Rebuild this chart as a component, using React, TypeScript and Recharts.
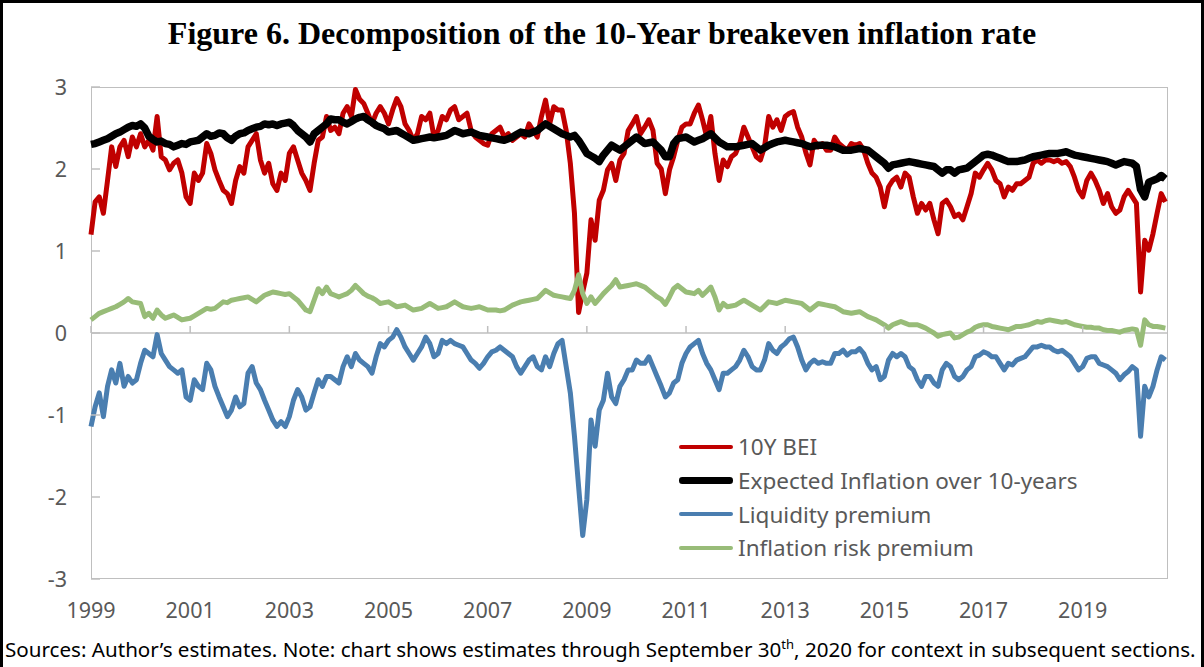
import { LineChart, Line, XAxis, YAxis, Legend, ReferenceLine } from "recharts";

// monthly observations, Jan 1999 .. Sep 2020 (one row per year)
const FIRST_YEAR = 1999;

const bei = [
  1.2, 1.6, 1.66, 1.46, 1.86, 2.27, 2.03, 2.27, 2.35, 2.15, 2.39, 2.27,
  2.43, 2.27, 2.35, 2.23, 2.64, 2.15, 2.11, 1.99, 2.07, 2.11, 1.95, 1.66,
  1.58, 1.95, 1.86, 1.95, 2.31, 2.19, 1.99, 1.86, 1.74, 1.7, 1.58, 1.86,
  2.03, 1.95, 2.27, 2.35, 2.43, 2.11, 1.95, 2.07, 1.82, 1.74, 1.95, 1.86,
  2.19, 2.27, 2.11, 1.95, 1.86, 1.74, 2.07, 2.35, 2.39, 2.64, 2.47, 2.51,
  2.43, 2.68, 2.76, 2.64, 2.97, 2.85, 2.8, 2.68, 2.55, 2.68, 2.76, 2.68,
  2.55, 2.72, 2.86, 2.76, 2.55, 2.47, 2.35, 2.43, 2.64, 2.6, 2.68, 2.39,
  2.47, 2.64, 2.6, 2.72, 2.76, 2.6, 2.64, 2.68, 2.47, 2.39, 2.35, 2.31,
  2.29, 2.43, 2.47, 2.51, 2.39, 2.43, 2.35, 2.39, 2.43, 2.39, 2.55, 2.47,
  2.39, 2.64, 2.84, 2.55, 2.76, 2.72, 2.72, 2.47, 2.07, 1.46, 0.25, 0.5,
  0.73, 1.38, 1.13, 1.62, 1.74, 1.99, 2.07, 1.86, 2.11, 2.19, 2.47, 2.55,
  2.64, 2.43, 2.51, 2.6, 2.47, 2.07, 2.0, 1.7, 1.99, 2.15, 2.35, 2.51,
  2.55, 2.55, 2.68, 2.78, 2.6, 2.39, 2.64, 2.19, 1.86, 2.11, 2.03, 2.15,
  2.19, 2.31, 2.51, 2.39, 2.27, 2.15, 2.11, 2.27, 2.64, 2.51, 2.6, 2.47,
  2.64, 2.68, 2.7, 2.51, 2.39, 2.2, 2.05, 2.35, 2.27, 2.31, 2.23, 2.23,
  2.39, 2.31, 2.27, 2.23, 2.31, 2.29, 2.31, 2.23, 2.07, 1.95, 1.9, 1.78,
  1.54, 1.78, 1.86, 1.9, 1.78, 1.95, 1.9, 1.66, 1.46, 1.58, 1.5, 1.58,
  1.38, 1.21, 1.58, 1.62, 1.54, 1.42, 1.45, 1.38, 1.54, 1.7, 1.95, 1.9,
  1.99, 2.07, 1.99, 1.86, 1.82, 1.66, 1.78, 1.74, 1.82, 1.82, 1.86, 1.9,
  2.07, 2.11, 2.07, 2.11, 2.11, 2.09, 2.11, 2.07, 2.09, 2.03, 1.9, 1.74,
  1.66, 1.86, 1.95, 1.86, 1.74, 1.58, 1.7, 1.54, 1.46, 1.5, 1.66, 1.74,
  1.66, 1.58, 0.5, 1.13, 1.01, 1.21, 1.46, 1.7, 1.6,
];

const expected = [
  2.3, 2.31, 2.33, 2.35, 2.37, 2.4, 2.43, 2.45, 2.48, 2.51, 2.53, 2.52,
  2.55, 2.5, 2.4, 2.36, 2.33, 2.34, 2.31, 2.3, 2.27, 2.29, 2.31, 2.3,
  2.33, 2.34, 2.35, 2.39, 2.43, 2.4, 2.41, 2.44, 2.43, 2.38, 2.35, 2.4,
  2.43, 2.44, 2.47, 2.49, 2.51, 2.52, 2.55, 2.54, 2.55, 2.53, 2.55, 2.56,
  2.57, 2.53, 2.47, 2.43, 2.39, 2.33, 2.43, 2.47, 2.51, 2.55, 2.61, 2.6,
  2.6, 2.57, 2.55, 2.58, 2.61, 2.63, 2.64, 2.6, 2.57, 2.53, 2.51, 2.49,
  2.45, 2.46, 2.47, 2.44, 2.41, 2.38, 2.35, 2.36, 2.37, 2.38, 2.39, 2.38,
  2.39, 2.4, 2.41, 2.44, 2.47, 2.45, 2.43, 2.44, 2.45, 2.43, 2.41, 2.4,
  2.39, 2.38, 2.37, 2.36, 2.35, 2.37, 2.39, 2.42, 2.45, 2.44, 2.43, 2.45,
  2.47, 2.51, 2.55, 2.52, 2.49, 2.46, 2.43, 2.41, 2.39, 2.41, 2.35, 2.27,
  2.19, 2.16, 2.13, 2.09, 2.17, 2.23, 2.29, 2.26, 2.23, 2.27, 2.31, 2.35,
  2.39, 2.35, 2.31, 2.32, 2.33, 2.28, 2.23, 2.15, 2.15, 2.31, 2.37, 2.38,
  2.39, 2.36, 2.33, 2.35, 2.37, 2.4, 2.43, 2.38, 2.33, 2.3, 2.27, 2.27,
  2.27, 2.28, 2.29, 2.3, 2.31, 2.27, 2.23, 2.26, 2.29, 2.31, 2.33, 2.34,
  2.35, 2.34, 2.33, 2.32, 2.31, 2.29, 2.27, 2.28, 2.29, 2.29, 2.29, 2.28,
  2.27, 2.25, 2.23, 2.23, 2.23, 2.24, 2.25, 2.24, 2.23, 2.19, 2.15, 2.11,
  2.07, 2.01, 2.05, 2.06, 2.07, 2.08, 2.09, 2.08, 2.07, 2.06, 2.05, 2.04,
  2.03, 1.99, 1.95, 1.99, 1.99, 1.95, 1.99, 2.0, 2.01, 2.05, 2.09, 2.13,
  2.17, 2.18, 2.17, 2.15, 2.13, 2.11, 2.09, 2.09, 2.09, 2.1, 2.11, 2.13,
  2.15, 2.16, 2.17, 2.18, 2.19, 2.19, 2.19, 2.2, 2.21, 2.19, 2.17, 2.16,
  2.15, 2.14, 2.13, 2.12, 2.11, 2.1, 2.09, 2.07, 2.05, 2.07, 2.09, 2.08,
  2.07, 2.03, 1.75, 1.66, 1.84, 1.86, 1.88, 1.92, 1.88,
];

const liquidity = [
  -1.14, -0.9, -0.73, -1.02, -0.65, -0.45, -0.61, -0.37, -0.65, -0.53, -0.61, -0.57,
  -0.37, -0.21, -0.25, -0.29, -0.02, -0.25, -0.33, -0.41, -0.45, -0.49, -0.45, -0.78,
  -0.82, -0.57, -0.65, -0.69, -0.37, -0.45, -0.65, -0.78, -0.9, -1.02, -0.94, -0.78,
  -0.9, -0.86, -0.49, -0.41, -0.61, -0.69, -0.82, -0.94, -1.06, -1.14, -1.08, -1.14,
  -1.02, -0.82, -0.69, -0.78, -0.94, -0.9, -0.73, -0.57, -0.65, -0.53, -0.53, -0.57,
  -0.61, -0.41, -0.29, -0.41, -0.25, -0.33, -0.37, -0.41, -0.49, -0.29, -0.13, -0.17,
  -0.09, -0.05, 0.04, -0.05, -0.17, -0.25, -0.33, -0.25, -0.17, -0.05, -0.13, -0.29,
  -0.25, -0.09, -0.13, -0.09, -0.13, -0.15, -0.17, -0.25, -0.33, -0.37, -0.43, -0.37,
  -0.29, -0.23, -0.21, -0.17, -0.21, -0.25, -0.29, -0.41, -0.49, -0.41, -0.33, -0.29,
  -0.41, -0.45, -0.29, -0.41, -0.25, -0.13, -0.09, -0.41, -0.73, -1.26, -1.87, -2.47,
  -2.03, -1.06, -1.38, -0.94, -0.82, -0.49, -0.78, -0.86, -0.65, -0.57, -0.45, -0.45,
  -0.33, -0.37, -0.37, -0.29, -0.41, -0.53, -0.65, -0.78, -0.73, -0.61, -0.57, -0.37,
  -0.25, -0.17, -0.13, -0.09, -0.25, -0.37, -0.45, -0.57, -0.69, -0.49, -0.49, -0.45,
  -0.41, -0.33, -0.21, -0.29, -0.41, -0.45, -0.45, -0.33, -0.13, -0.21, -0.25, -0.17,
  -0.13, -0.07, -0.05, -0.17, -0.33, -0.45, -0.37, -0.33, -0.37, -0.35, -0.37, -0.37,
  -0.25, -0.25, -0.21, -0.27, -0.23, -0.23, -0.19, -0.25, -0.37, -0.45, -0.41, -0.57,
  -0.53, -0.33, -0.25, -0.29, -0.25, -0.29, -0.41, -0.45, -0.57, -0.65, -0.53, -0.53,
  -0.61, -0.65, -0.45, -0.37, -0.41, -0.53, -0.57, -0.53, -0.45, -0.41, -0.29, -0.27,
  -0.23, -0.25, -0.29, -0.29, -0.37, -0.45, -0.37, -0.39, -0.33, -0.31, -0.29, -0.23,
  -0.17, -0.17, -0.15, -0.17, -0.17, -0.21, -0.23, -0.21, -0.25, -0.29, -0.37, -0.45,
  -0.41, -0.31, -0.29, -0.29, -0.37, -0.39, -0.41, -0.45, -0.49, -0.57, -0.51, -0.47,
  -0.41, -0.45, -1.26, -0.65, -0.78, -0.65, -0.45, -0.29, -0.33,
];

const riskPremium = [
  0.16, 0.2, 0.24, 0.26, 0.28, 0.3, 0.32, 0.35, 0.38, 0.42, 0.38, 0.37,
  0.36, 0.2, 0.24, 0.18, 0.28, 0.22, 0.18, 0.2, 0.22, 0.19, 0.16, 0.17,
  0.18, 0.21, 0.24, 0.27, 0.3, 0.29, 0.3, 0.34, 0.38, 0.37, 0.4, 0.41,
  0.42, 0.43, 0.44, 0.41, 0.38, 0.42, 0.46, 0.48, 0.5, 0.49, 0.48, 0.47,
  0.48, 0.44, 0.4, 0.34, 0.28, 0.26, 0.4, 0.54, 0.48, 0.56, 0.48, 0.46,
  0.44, 0.46, 0.48, 0.52, 0.58, 0.53, 0.48, 0.45, 0.43, 0.4, 0.36, 0.37,
  0.38, 0.35, 0.32, 0.33, 0.34, 0.31, 0.28, 0.29, 0.3, 0.33, 0.36, 0.33,
  0.3, 0.31, 0.32, 0.35, 0.38, 0.35, 0.32, 0.31, 0.3, 0.31, 0.32, 0.3,
  0.28, 0.28, 0.28, 0.27, 0.28, 0.31, 0.34, 0.36, 0.38, 0.39, 0.4, 0.41,
  0.42, 0.47, 0.52, 0.49, 0.46, 0.45, 0.44, 0.43, 0.42, 0.52, 0.71, 0.48,
  0.36, 0.44, 0.36, 0.42, 0.48, 0.53, 0.58, 0.65, 0.56, 0.57, 0.58, 0.59,
  0.6, 0.58, 0.56, 0.52, 0.48, 0.44, 0.41, 0.35, 0.44, 0.54, 0.58, 0.54,
  0.5, 0.49, 0.48, 0.52, 0.46, 0.51, 0.56, 0.44, 0.28, 0.36, 0.32, 0.33,
  0.34, 0.37, 0.4, 0.37, 0.34, 0.31, 0.28, 0.33, 0.38, 0.37, 0.36, 0.38,
  0.4, 0.39, 0.38, 0.37, 0.36, 0.32, 0.28, 0.32, 0.36, 0.35, 0.34, 0.33,
  0.32, 0.29, 0.26, 0.25, 0.24, 0.25, 0.26, 0.23, 0.2, 0.18, 0.16, 0.13,
  0.1, 0.06, 0.1, 0.12, 0.14, 0.12, 0.1, 0.1, 0.1, 0.08, 0.06, 0.03,
  0.0, -0.04, -0.02, -0.01, 0.0, -0.06, -0.05, -0.02, 0.01, 0.03, 0.07, 0.09,
  0.1, 0.1, 0.08, 0.07, 0.06, 0.05, 0.04, 0.06, 0.08, 0.08, 0.09, 0.1,
  0.12, 0.14, 0.13, 0.15, 0.16, 0.15, 0.14, 0.13, 0.14, 0.12, 0.1, 0.09,
  0.08, 0.07, 0.07, 0.06, 0.06, 0.04, 0.03, 0.03, 0.02, 0.01, 0.03, 0.04,
  0.05, 0.04, -0.15, 0.16, 0.1, 0.08, 0.08, 0.07, 0.06,
];

const yearTicks = [1999, 2001, 2003, 2005, 2007, 2009, 2011, 2013, 2015, 2017, 2019];
const valueTicks = [-3, -2, -1, 0, 1, 2, 3];

const series = [
  { key: "bei", name: "10Y BEI", color: "#C00000", width: 5, swatch: 4 },
  { key: "expected", name: "Expected Inflation over 10-years", color: "#000000", width: 7.5, swatch: 6.5 },
  { key: "liquidity", name: "Liquidity premium", color: "#4A7EB0", width: 5, swatch: 4.5 },
  { key: "irp", name: "Inflation risk premium", color: "#98BC78", width: 5, swatch: 4.5 },
];

const data = bei.map((v, i) => ({
  date: FIRST_YEAR + i / 12,
  bei: v,
  expected: expected[i],
  liquidity: liquidity[i],
  irp: riskPremium[i],
}));

const W = 1204;
const H = 667;
const PLOT = { left: 91, top: 87, right: 1168, bottom: 579 };
const ZERO_Y = (PLOT.top + PLOT.bottom) / 2;
const AXIS_GREY = "#BFBFBF";
const TEXT_GREY = "#595959";
const SANS = "'Noto Sans', 'Open Sans', sans-serif";

const XTick = ({ x, payload }: any) => (
  <g>
    <line x1={x} x2={x} y1={ZERO_Y} y2={ZERO_Y - 7} stroke={AXIS_GREY} strokeWidth={1.5} />
    <text x={x} y={610} dy="0.36em" textAnchor="middle" fill={TEXT_GREY} fontSize={21.5} fontFamily={SANS}>
      {payload.value}
    </text>
  </g>
);

const YTick = ({ y, payload }: any) => (
  <g>
    <line x1={PLOT.left} x2={PLOT.left + 9} y1={y} y2={y} stroke={AXIS_GREY} strokeWidth={1.5} />
    <text x={PLOT.left - 24} y={y} dy="0.36em" textAnchor="end" fill={TEXT_GREY} fontSize={21.5} fontFamily={SANS}>
      {payload.value}
    </text>
  </g>
);

const LegendBox = () => (
  <div style={{ fontFamily: SANS, fontSize: 22.5, color: TEXT_GREY }}>
    {series.map((s) => (
      <div key={s.key} style={{ display: "flex", alignItems: "center", height: 33.7 }}>
        <span
          style={{
            display: "inline-block",
            width: 54,
            height: s.swatch,
            background: s.color,
            borderRadius: s.swatch / 2,
            marginRight: 5,
          }}
        />
        <span style={{ whiteSpace: "nowrap" }}>{s.name}</span>
      </div>
    ))}
  </div>
);

export default function App() {
  return (
    <div
      style={{
        position: "absolute",
        left: 0,
        top: 0,
        width: W,
        height: H,
        background: "#fff",
        overflow: "hidden",
      }}
    >
      <div
        style={{
          position: "absolute",
          left: 0,
          top: 0,
          width: W,
          height: H + 10,
          border: "3.5px solid #000",
          boxSizing: "border-box",
        }}
      />
      <div
        style={{
          position: "absolute",
          top: 15,
          left: 0,
          width: W,
          textAlign: "center",
          fontFamily: "'Liberation Serif', 'Times New Roman', serif",
          fontWeight: "bold",
          fontSize: 32,
          color: "#000",
        }}
      >
        Figure 6. Decomposition of the 10-Year breakeven inflation rate
      </div>
      <div
        style={{
          position: "absolute",
          left: PLOT.left,
          top: PLOT.top,
          width: PLOT.right - PLOT.left,
          height: PLOT.bottom - PLOT.top,
          border: `1.5px solid ${AXIS_GREY}`,
          boxSizing: "border-box",
        }}
      />
      <div style={{ position: "absolute", left: 0, top: 0 }}>
        <LineChart
          width={W}
          height={H}
          data={data}
          margin={{ top: PLOT.top, right: W - PLOT.right, left: PLOT.left - 60, bottom: H - PLOT.bottom - 30 }}
        >
          <XAxis
            dataKey="date"
            type="number"
            domain={[1999, 2020.72]}
            ticks={yearTicks}
            axisLine={false}
            tickLine={false}
            height={30}
            tick={<XTick />}
            interval={0}
          />
          <YAxis
            type="number"
            domain={[-3, 3]}
            ticks={valueTicks}
            axisLine={false}
            tickLine={false}
            width={60}
            tick={<YTick />}
            interval={0}
          />
          <ReferenceLine y={0} stroke={AXIS_GREY} strokeWidth={1.5} />
          {series.map((s) => (
            <Line
              key={s.key}
              type="linear"
              dataKey={s.key}
              name={s.name}
              stroke={s.color}
              strokeWidth={s.width}
              strokeLinejoin="round"
              dot={false}
              activeDot={false}
              isAnimationActive={false}
            />
          ))}
          <Legend
            layout="vertical"
            align="center"
            verticalAlign="middle"
            content={<LegendBox />}
            wrapperStyle={{ left: 679, top: 430, width: 460 }}
          />
        </LineChart>
      </div>
      <div
        style={{
          position: "absolute",
          left: 5,
          top: 635,
          fontFamily: SANS,
          fontSize: 20.6,
          color: "#000",
          whiteSpace: "nowrap",
        }}
      >
        Sources: Author’s estimates. Note: chart shows estimates through September 30
        <sup style={{ fontSize: 13 }}>th</sup>, 2020 for context in subsequent sections.
      </div>
    </div>
  );
}
